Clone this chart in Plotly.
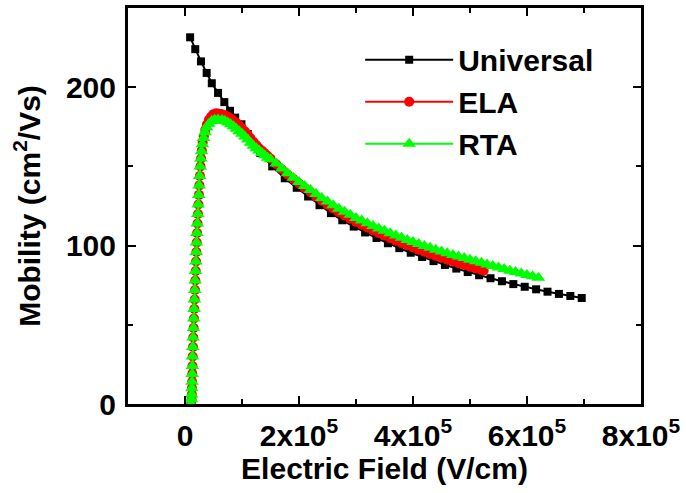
import plotly.graph_objects as go

# Electric field values in units of 1e5 V/cm, mobility in cm^2/Vs
univ_E = [0.09, 0.18, 0.28, 0.38, 0.47, 0.58, 0.69, 0.79, 0.88, 0.99, 1.10, 1.21, 1.32, 1.53, 1.75, 1.96,
          2.16, 2.36, 2.56, 2.76, 2.96, 3.16, 3.36, 3.56, 3.76, 3.96, 4.16, 4.36, 4.56, 4.76, 4.96,
          5.16, 5.36, 5.56, 5.76, 5.96, 6.16, 6.36, 6.56, 6.76, 6.96]
univ_mu = [231.5, 224.0, 216.3, 209.0, 202.5, 196.4, 190.6, 185.1, 180.8, 176.6, 170.5, 164.0, 158.5, 150.0, 142.5, 136.5,
           131.0, 125.5, 120.5, 116.0, 112.0, 108.3, 104.8, 101.5, 98.4, 95.5, 92.8, 90.2, 87.8, 85.5, 83.3,
           81.3, 79.4, 77.5, 75.7, 74.0, 72.4, 70.9, 69.5, 68.2, 66.9]

ela_E = [0.11, 0.115, 0.12, 0.122, 0.125, 0.128, 0.131, 0.134, 0.14, 0.145, 0.151, 0.157, 0.164, 0.17, 0.176, 0.182,
         0.188, 0.194, 0.20, 0.206, 0.213, 0.22, 0.228, 0.236, 0.245, 0.253, 0.262, 0.272, 0.282, 0.295, 0.31,
         0.33, 0.355, 0.385, 0.42, 0.46, 0.50, 0.55,
         0.60, 0.65, 0.70, 0.75, 0.80, 0.85, 0.90, 0.95, 1.00, 1.05, 1.10, 1.15, 1.20, 1.25, 1.30, 1.35, 1.40, 1.45, 1.50,
         1.6, 1.7, 1.8, 1.9, 2.0, 2.1, 2.2, 2.3, 2.4, 2.5, 2.6, 2.7, 2.8, 2.9, 3.0, 3.1, 3.2, 3.3, 3.4, 3.5,
         3.6, 3.7, 3.8, 3.9, 4.0, 4.1, 4.2, 4.3, 4.4, 4.5, 4.6, 4.7, 4.8, 4.9, 5.0, 5.1, 5.2, 5.24]
ela_mu = [0, 3, 6, 10, 14, 19, 24, 30, 36, 42, 48, 54, 60, 66, 72, 78,
          84, 90, 96, 102, 108, 114, 120, 126, 132, 138, 144, 150, 155, 160, 165,
          169, 173, 176.5, 179.5, 181.5, 183, 183.5,
          183.3, 182.9, 182.3, 181.4, 180.3, 179.0, 177.5, 175.8, 174.0, 172.1, 170.0, 167.8, 165.5, 163.5, 161.5, 159.9, 158.3, 156.6, 154.9,
          151.4, 148.0, 144.9, 142.0, 139.2, 136.4, 133.7, 130.9, 128.3, 125.8, 123.4, 121.1, 119.0, 117.0, 115.0, 113.2, 111.4, 109.6, 107.9, 106.3,
          104.7, 103.1, 101.6, 100.2, 98.8, 97.4, 96.1, 94.8, 93.5, 92.3, 91.1, 90.0, 88.9, 87.8, 86.7, 85.7, 84.7, 84.3]

rta_E = [0.108, 0.113, 0.118, 0.12, 0.123, 0.126, 0.129, 0.132, 0.137, 0.142, 0.148, 0.154, 0.16, 0.166, 0.172, 0.178,
         0.184, 0.19, 0.196, 0.202, 0.209, 0.216, 0.224, 0.232, 0.24, 0.248, 0.257, 0.267, 0.278, 0.29, 0.305,
         0.325, 0.35, 0.38, 0.42, 0.47, 0.52, 0.58,
         0.65, 0.70, 0.75, 0.80, 0.85, 0.90, 0.95, 1.00, 1.05, 1.10, 1.15, 1.20, 1.25, 1.30, 1.35, 1.40, 1.45, 1.50,
         1.6, 1.7, 1.8, 1.9, 2.0, 2.1, 2.2, 2.3, 2.4, 2.5, 2.6, 2.7, 2.8, 2.9, 3.0, 3.1, 3.2, 3.3, 3.4, 3.5,
         3.6, 3.7, 3.8, 3.9, 4.0, 4.1, 4.2, 4.3, 4.4, 4.5, 4.6, 4.7, 4.8, 4.9, 5.0, 5.1, 5.2, 5.3, 5.4, 5.5,
         5.6, 5.7, 5.8, 5.9, 6.0, 6.1, 6.2]
rta_mu = [0, 3, 6, 10, 14, 19, 24, 30, 36, 42, 48, 54, 60, 66, 72, 78,
          84, 90, 96, 102, 108, 114, 120, 126, 132, 138, 144, 150, 155, 159.5, 164,
          168, 171.5, 174.5, 177, 178.6, 179.4, 179.6,
          179.3, 178.6, 177.7, 176.6, 175.3, 173.8, 172.2, 170.6, 168.8, 167.0, 165.0, 163.1, 161.5, 160.0, 158.5, 157.0, 155.5, 154.5,
          151.8, 148.6, 145.6, 142.8, 140.2, 137.6, 135.1, 132.5, 130.1, 127.8, 125.5, 123.3, 121.3, 119.4, 117.5, 115.8, 114.1, 112.4, 110.8, 109.3,
          107.8, 106.3, 104.9, 103.6, 102.3, 101.0, 99.8, 98.6, 97.4, 96.3, 95.2, 94.1, 93.1, 92.1, 91.1, 90.1, 89.1, 88.1, 87.1, 86.1,
          85.2, 84.2, 83.3, 82.4, 81.5, 80.6, 79.7]

x_tickvals = [0, 2e5, 4e5, 6e5, 8e5]
x_ticktext = ["0", "2x10<sup>5</sup>", "4x10<sup>5</sup>", "6x10<sup>5</sup>", "8x10<sup>5</sup>"]
y_tickvals = [0, 100, 200]

assert len(univ_E) == len(univ_mu)
assert len(ela_E) == len(ela_mu)
assert len(rta_E) == len(rta_mu)

SCALE = 1e5
FONT = "Liberation Sans, Arial, Helvetica, sans-serif"

fig = go.Figure()
fig.add_trace(go.Scatter(x=[v * SCALE for v in univ_E], y=univ_mu, name="Universal", mode="lines+markers",
                         line=dict(color="black", width=2),
                         marker=dict(symbol="square", size=8, color="black")))
fig.add_trace(go.Scatter(x=[v * SCALE for v in ela_E], y=ela_mu, name="ELA", mode="lines+markers",
                         line=dict(color="#ff0000", width=2),
                         marker=dict(symbol="circle", size=10, color="#ff0000")))
fig.add_trace(go.Scatter(x=[v * SCALE for v in rta_E], y=rta_mu, name="RTA", mode="lines+markers",
                         line=dict(color="#00ff00", width=2),
                         marker=dict(symbol="triangle-up", size=12, color="#00ff00")))

axis_common = dict(showline=True, linecolor="black", linewidth=3, mirror="ticks",
                   ticks="inside", ticklen=8, tickwidth=2, tickcolor="black",
                   showgrid=False, zeroline=False, ticklabelstandoff=3,
                   tickfont=dict(family=FONT, size=30, color="black", weight="bold"))

fig.update_xaxes(range=[-1e5, 8e5], tickmode="array", tickvals=x_tickvals, ticktext=x_ticktext,
                 minor=dict(tickmode="linear", tick0=0, dtick=1e5, ticks="inside", ticklen=5, tickwidth=2, tickcolor="black"),
                 title=dict(text="Electric Field (V/cm)", font=dict(family=FONT, size=30, color="black", weight="bold"), standoff=6),
                 **axis_common)
fig.update_yaxes(range=[0, 250], tickmode="array", tickvals=y_tickvals,
                 minor=dict(tickmode="linear", tick0=0, dtick=50, ticks="inside", ticklen=5, tickwidth=2, tickcolor="black"),
                 title=dict(text="Mobility (cm<sup>2</sup>/Vs)", font=dict(family=FONT, size=30, color="black", weight="bold"), standoff=17),
                 **axis_common)

fig.update_layout(width=686, height=493, margin=dict(l=128, r=41, t=5, b=89),
                  paper_bgcolor="white", plot_bgcolor="white",
                  showlegend=True,
                  legend=dict(x=0.4526, y=0.935, xanchor="left", yanchor="top", bgcolor="rgba(0,0,0,0)",
                              font=dict(family=FONT, size=30, color="black", weight="bold"),
                              itemwidth=88, tracegroupgap=0))

fig.write_html("out.html")
